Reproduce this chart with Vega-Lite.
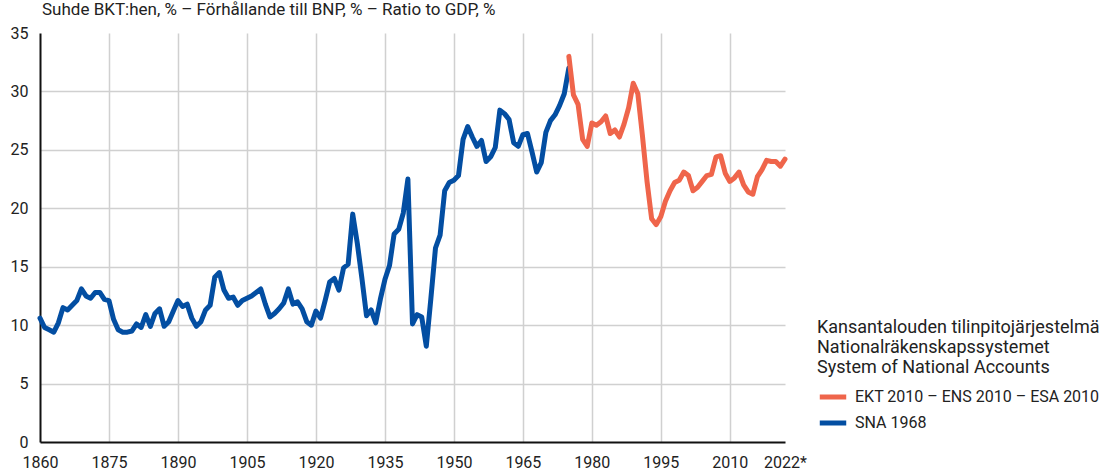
{
  "$schema": "https://vega.github.io/schema/vega-lite/v6.json",
  "width": 745,
  "height": 409,
  "autosize": {"type": "none"},
  "padding": {"left": 40, "top": 33, "right": 324, "bottom": 30},
  "background": "white",
  "config": {
    "font": "Roboto",
    "view": {"stroke": null}
  },
  "title": {
    "text": "Suhde BKT:hen, % – Förhållande till BNP, % – Ratio to GDP, %",
    "anchor": "start",
    "frame": "group",
    "fontSize": 17,
    "fontWeight": "normal",
    "color": "#222222",
    "offset": 6,
    "dx": 2
  },
  "data": {
    "values": [
      {"year": 1860, "v": 10.6, "s": "SNA 1968"},
      {"year": 1861, "v": 9.8, "s": "SNA 1968"},
      {"year": 1862, "v": 9.6, "s": "SNA 1968"},
      {"year": 1863, "v": 9.4, "s": "SNA 1968"},
      {"year": 1864, "v": 10.2, "s": "SNA 1968"},
      {"year": 1865, "v": 11.5, "s": "SNA 1968"},
      {"year": 1866, "v": 11.3, "s": "SNA 1968"},
      {"year": 1867, "v": 11.7, "s": "SNA 1968"},
      {"year": 1868, "v": 12.1, "s": "SNA 1968"},
      {"year": 1869, "v": 13.1, "s": "SNA 1968"},
      {"year": 1870, "v": 12.5, "s": "SNA 1968"},
      {"year": 1871, "v": 12.3, "s": "SNA 1968"},
      {"year": 1872, "v": 12.8, "s": "SNA 1968"},
      {"year": 1873, "v": 12.8, "s": "SNA 1968"},
      {"year": 1874, "v": 12.2, "s": "SNA 1968"},
      {"year": 1875, "v": 12.1, "s": "SNA 1968"},
      {"year": 1876, "v": 10.5, "s": "SNA 1968"},
      {"year": 1877, "v": 9.6, "s": "SNA 1968"},
      {"year": 1878, "v": 9.4, "s": "SNA 1968"},
      {"year": 1879, "v": 9.4, "s": "SNA 1968"},
      {"year": 1880, "v": 9.5, "s": "SNA 1968"},
      {"year": 1881, "v": 10.1, "s": "SNA 1968"},
      {"year": 1882, "v": 9.8, "s": "SNA 1968"},
      {"year": 1883, "v": 10.9, "s": "SNA 1968"},
      {"year": 1884, "v": 9.9, "s": "SNA 1968"},
      {"year": 1885, "v": 11.0, "s": "SNA 1968"},
      {"year": 1886, "v": 11.4, "s": "SNA 1968"},
      {"year": 1887, "v": 9.9, "s": "SNA 1968"},
      {"year": 1888, "v": 10.3, "s": "SNA 1968"},
      {"year": 1889, "v": 11.2, "s": "SNA 1968"},
      {"year": 1890, "v": 12.1, "s": "SNA 1968"},
      {"year": 1891, "v": 11.6, "s": "SNA 1968"},
      {"year": 1892, "v": 11.8, "s": "SNA 1968"},
      {"year": 1893, "v": 10.6, "s": "SNA 1968"},
      {"year": 1894, "v": 9.9, "s": "SNA 1968"},
      {"year": 1895, "v": 10.3, "s": "SNA 1968"},
      {"year": 1896, "v": 11.3, "s": "SNA 1968"},
      {"year": 1897, "v": 11.7, "s": "SNA 1968"},
      {"year": 1898, "v": 14.1, "s": "SNA 1968"},
      {"year": 1899, "v": 14.5, "s": "SNA 1968"},
      {"year": 1900, "v": 13.0, "s": "SNA 1968"},
      {"year": 1901, "v": 12.3, "s": "SNA 1968"},
      {"year": 1902, "v": 12.4, "s": "SNA 1968"},
      {"year": 1903, "v": 11.7, "s": "SNA 1968"},
      {"year": 1904, "v": 12.1, "s": "SNA 1968"},
      {"year": 1905, "v": 12.3, "s": "SNA 1968"},
      {"year": 1906, "v": 12.5, "s": "SNA 1968"},
      {"year": 1907, "v": 12.8, "s": "SNA 1968"},
      {"year": 1908, "v": 13.1, "s": "SNA 1968"},
      {"year": 1909, "v": 11.8, "s": "SNA 1968"},
      {"year": 1910, "v": 10.7, "s": "SNA 1968"},
      {"year": 1911, "v": 11.0, "s": "SNA 1968"},
      {"year": 1912, "v": 11.4, "s": "SNA 1968"},
      {"year": 1913, "v": 11.9, "s": "SNA 1968"},
      {"year": 1914, "v": 13.1, "s": "SNA 1968"},
      {"year": 1915, "v": 11.8, "s": "SNA 1968"},
      {"year": 1916, "v": 12.0, "s": "SNA 1968"},
      {"year": 1917, "v": 11.4, "s": "SNA 1968"},
      {"year": 1918, "v": 10.3, "s": "SNA 1968"},
      {"year": 1919, "v": 10.0, "s": "SNA 1968"},
      {"year": 1920, "v": 11.2, "s": "SNA 1968"},
      {"year": 1921, "v": 10.6, "s": "SNA 1968"},
      {"year": 1922, "v": 12.1, "s": "SNA 1968"},
      {"year": 1923, "v": 13.7, "s": "SNA 1968"},
      {"year": 1924, "v": 14.0, "s": "SNA 1968"},
      {"year": 1925, "v": 13.0, "s": "SNA 1968"},
      {"year": 1926, "v": 14.9, "s": "SNA 1968"},
      {"year": 1927, "v": 15.2, "s": "SNA 1968"},
      {"year": 1928, "v": 19.5, "s": "SNA 1968"},
      {"year": 1929, "v": 17.0, "s": "SNA 1968"},
      {"year": 1930, "v": 14.0, "s": "SNA 1968"},
      {"year": 1931, "v": 10.8, "s": "SNA 1968"},
      {"year": 1932, "v": 11.3, "s": "SNA 1968"},
      {"year": 1933, "v": 10.2, "s": "SNA 1968"},
      {"year": 1934, "v": 12.2, "s": "SNA 1968"},
      {"year": 1935, "v": 13.9, "s": "SNA 1968"},
      {"year": 1936, "v": 15.1, "s": "SNA 1968"},
      {"year": 1937, "v": 17.8, "s": "SNA 1968"},
      {"year": 1938, "v": 18.2, "s": "SNA 1968"},
      {"year": 1939, "v": 19.6, "s": "SNA 1968"},
      {"year": 1940, "v": 22.5, "s": "SNA 1968"},
      {"year": 1941, "v": 10.1, "s": "SNA 1968"},
      {"year": 1942, "v": 10.9, "s": "SNA 1968"},
      {"year": 1943, "v": 10.7, "s": "SNA 1968"},
      {"year": 1944, "v": 8.2, "s": "SNA 1968"},
      {"year": 1945, "v": 12.3, "s": "SNA 1968"},
      {"year": 1946, "v": 16.6, "s": "SNA 1968"},
      {"year": 1947, "v": 17.7, "s": "SNA 1968"},
      {"year": 1948, "v": 21.5, "s": "SNA 1968"},
      {"year": 1949, "v": 22.2, "s": "SNA 1968"},
      {"year": 1950, "v": 22.4, "s": "SNA 1968"},
      {"year": 1951, "v": 22.8, "s": "SNA 1968"},
      {"year": 1952, "v": 25.9, "s": "SNA 1968"},
      {"year": 1953, "v": 27.0, "s": "SNA 1968"},
      {"year": 1954, "v": 26.1, "s": "SNA 1968"},
      {"year": 1955, "v": 25.3, "s": "SNA 1968"},
      {"year": 1956, "v": 25.8, "s": "SNA 1968"},
      {"year": 1957, "v": 24.0, "s": "SNA 1968"},
      {"year": 1958, "v": 24.4, "s": "SNA 1968"},
      {"year": 1959, "v": 25.2, "s": "SNA 1968"},
      {"year": 1960, "v": 28.4, "s": "SNA 1968"},
      {"year": 1961, "v": 28.1, "s": "SNA 1968"},
      {"year": 1962, "v": 27.6, "s": "SNA 1968"},
      {"year": 1963, "v": 25.6, "s": "SNA 1968"},
      {"year": 1964, "v": 25.3, "s": "SNA 1968"},
      {"year": 1965, "v": 26.3, "s": "SNA 1968"},
      {"year": 1966, "v": 26.4, "s": "SNA 1968"},
      {"year": 1967, "v": 24.8, "s": "SNA 1968"},
      {"year": 1968, "v": 23.1, "s": "SNA 1968"},
      {"year": 1969, "v": 23.9, "s": "SNA 1968"},
      {"year": 1970, "v": 26.5, "s": "SNA 1968"},
      {"year": 1971, "v": 27.5, "s": "SNA 1968"},
      {"year": 1972, "v": 28.0, "s": "SNA 1968"},
      {"year": 1973, "v": 28.8, "s": "SNA 1968"},
      {"year": 1974, "v": 29.8, "s": "SNA 1968"},
      {"year": 1975, "v": 32.0, "s": "SNA 1968"},
      {"year": 1975, "v": 33.0, "s": "EKT 2010 – ENS 2010 – ESA 2010"},
      {"year": 1976, "v": 29.7, "s": "EKT 2010 – ENS 2010 – ESA 2010"},
      {"year": 1977, "v": 28.9, "s": "EKT 2010 – ENS 2010 – ESA 2010"},
      {"year": 1978, "v": 25.9, "s": "EKT 2010 – ENS 2010 – ESA 2010"},
      {"year": 1979, "v": 25.3, "s": "EKT 2010 – ENS 2010 – ESA 2010"},
      {"year": 1980, "v": 27.3, "s": "EKT 2010 – ENS 2010 – ESA 2010"},
      {"year": 1981, "v": 27.1, "s": "EKT 2010 – ENS 2010 – ESA 2010"},
      {"year": 1982, "v": 27.4, "s": "EKT 2010 – ENS 2010 – ESA 2010"},
      {"year": 1983, "v": 27.9, "s": "EKT 2010 – ENS 2010 – ESA 2010"},
      {"year": 1984, "v": 26.4, "s": "EKT 2010 – ENS 2010 – ESA 2010"},
      {"year": 1985, "v": 26.7, "s": "EKT 2010 – ENS 2010 – ESA 2010"},
      {"year": 1986, "v": 26.1, "s": "EKT 2010 – ENS 2010 – ESA 2010"},
      {"year": 1987, "v": 27.2, "s": "EKT 2010 – ENS 2010 – ESA 2010"},
      {"year": 1988, "v": 28.6, "s": "EKT 2010 – ENS 2010 – ESA 2010"},
      {"year": 1989, "v": 30.7, "s": "EKT 2010 – ENS 2010 – ESA 2010"},
      {"year": 1990, "v": 29.8, "s": "EKT 2010 – ENS 2010 – ESA 2010"},
      {"year": 1991, "v": 26.2, "s": "EKT 2010 – ENS 2010 – ESA 2010"},
      {"year": 1992, "v": 22.3, "s": "EKT 2010 – ENS 2010 – ESA 2010"},
      {"year": 1993, "v": 19.1, "s": "EKT 2010 – ENS 2010 – ESA 2010"},
      {"year": 1994, "v": 18.6, "s": "EKT 2010 – ENS 2010 – ESA 2010"},
      {"year": 1995, "v": 19.3, "s": "EKT 2010 – ENS 2010 – ESA 2010"},
      {"year": 1996, "v": 20.6, "s": "EKT 2010 – ENS 2010 – ESA 2010"},
      {"year": 1997, "v": 21.5, "s": "EKT 2010 – ENS 2010 – ESA 2010"},
      {"year": 1998, "v": 22.2, "s": "EKT 2010 – ENS 2010 – ESA 2010"},
      {"year": 1999, "v": 22.4, "s": "EKT 2010 – ENS 2010 – ESA 2010"},
      {"year": 2000, "v": 23.1, "s": "EKT 2010 – ENS 2010 – ESA 2010"},
      {"year": 2001, "v": 22.8, "s": "EKT 2010 – ENS 2010 – ESA 2010"},
      {"year": 2002, "v": 21.5, "s": "EKT 2010 – ENS 2010 – ESA 2010"},
      {"year": 2003, "v": 21.8, "s": "EKT 2010 – ENS 2010 – ESA 2010"},
      {"year": 2004, "v": 22.3, "s": "EKT 2010 – ENS 2010 – ESA 2010"},
      {"year": 2005, "v": 22.8, "s": "EKT 2010 – ENS 2010 – ESA 2010"},
      {"year": 2006, "v": 22.9, "s": "EKT 2010 – ENS 2010 – ESA 2010"},
      {"year": 2007, "v": 24.4, "s": "EKT 2010 – ENS 2010 – ESA 2010"},
      {"year": 2008, "v": 24.5, "s": "EKT 2010 – ENS 2010 – ESA 2010"},
      {"year": 2009, "v": 23.0, "s": "EKT 2010 – ENS 2010 – ESA 2010"},
      {"year": 2010, "v": 22.3, "s": "EKT 2010 – ENS 2010 – ESA 2010"},
      {"year": 2011, "v": 22.6, "s": "EKT 2010 – ENS 2010 – ESA 2010"},
      {"year": 2012, "v": 23.1, "s": "EKT 2010 – ENS 2010 – ESA 2010"},
      {"year": 2013, "v": 22.0, "s": "EKT 2010 – ENS 2010 – ESA 2010"},
      {"year": 2014, "v": 21.4, "s": "EKT 2010 – ENS 2010 – ESA 2010"},
      {"year": 2015, "v": 21.2, "s": "EKT 2010 – ENS 2010 – ESA 2010"},
      {"year": 2016, "v": 22.7, "s": "EKT 2010 – ENS 2010 – ESA 2010"},
      {"year": 2017, "v": 23.3, "s": "EKT 2010 – ENS 2010 – ESA 2010"},
      {"year": 2018, "v": 24.1, "s": "EKT 2010 – ENS 2010 – ESA 2010"},
      {"year": 2019, "v": 24.0, "s": "EKT 2010 – ENS 2010 – ESA 2010"},
      {"year": 2020, "v": 24.0, "s": "EKT 2010 – ENS 2010 – ESA 2010"},
      {"year": 2021, "v": 23.6, "s": "EKT 2010 – ENS 2010 – ESA 2010"},
      {"year": 2022, "v": 24.2, "s": "EKT 2010 – ENS 2010 – ESA 2010"}
    ]
  },
  "mark": {"type": "line", "strokeWidth": 5, "strokeJoin": "round", "strokeCap": "round"},
  "encoding": {
    "x": {
      "field": "year",
      "type": "quantitative",
      "scale": {"domain": [1860, 2022], "nice": false, "zero": false},
      "axis": {
        "title": null,
        "values": [1860, 1875, 1890, 1905, 1920, 1935, 1950, 1965, 1980, 1995, 2010, 2022],
        "labelExpr": "datum.value == 2022 ? '2022*' : datum.value",
        "format": "d",
        "ticks": false,
        "tickSize": 0,
        "labelPadding": 12,
        "labelFontSize": 16,
        "labelColor": "#222222",
        "labelFont": "Roboto",
        "domainColor": "#111111",
        "domainWidth": 2,
        "grid": true,
        "gridColor": "#d0d0d0",
        "gridWidth": 1.5,
        "gridOpacity": {"condition": {"test": "datum.value == 2022 || datum.value == 1860", "value": 0}, "value": 1},
        "labelFlush": false,
        "labelOverlap": false
      }
    },
    "y": {
      "field": "v",
      "type": "quantitative",
      "scale": {"domain": [0, 35], "nice": false},
      "axis": {
        "title": null,
        "values": [0, 5, 10, 15, 20, 25, 30, 35],
        "ticks": false,
        "tickSize": 0,
        "labelPadding": 12,
        "labelFontSize": 16,
        "labelColor": "#222222",
        "labelFont": "Roboto",
        "domainColor": "#111111",
        "domainWidth": 2,
        "grid": true,
        "gridColor": "#d0d0d0",
        "gridWidth": 1.5,
        "gridOpacity": {"condition": {"test": "datum.value == 35 || datum.value == 0", "value": 0}, "value": 1},
        "labelFlush": false,
        "labelOverlap": false
      }
    },
    "color": {
      "field": "s",
      "type": "nominal",
      "scale": {
        "domain": ["EKT 2010 – ENS 2010 – ESA 2010", "SNA 1968"],
        "range": ["#EF654B", "#034EA2"]
      },
      "legend": {
        "orient": "none",
        "legendX": 777,
        "legendY": 286,
        "direction": "vertical",
        "title": ["Kansantalouden tilinpitojärjestelmä", "Nationalräkenskapssystemet", "System of National Accounts"],
        "titleFont": "Roboto",
        "titleFontSize": 18,
        "titleFontWeight": "normal",
        "titleColor": "#222222",
        "titleLineHeight": 20,
        "titlePadding": 4,
        "titleLimit": 400,
        "labelFont": "Roboto",
        "labelFontSize": 16,
        "labelColor": "#222222",
        "labelLimit": 400,
        "labelOffset": 6,
        "symbolType": "stroke",
        "symbolStrokeWidth": 5,
        "symbolSize": 700,
        "rowPadding": 0
      }
    }
  }
}
